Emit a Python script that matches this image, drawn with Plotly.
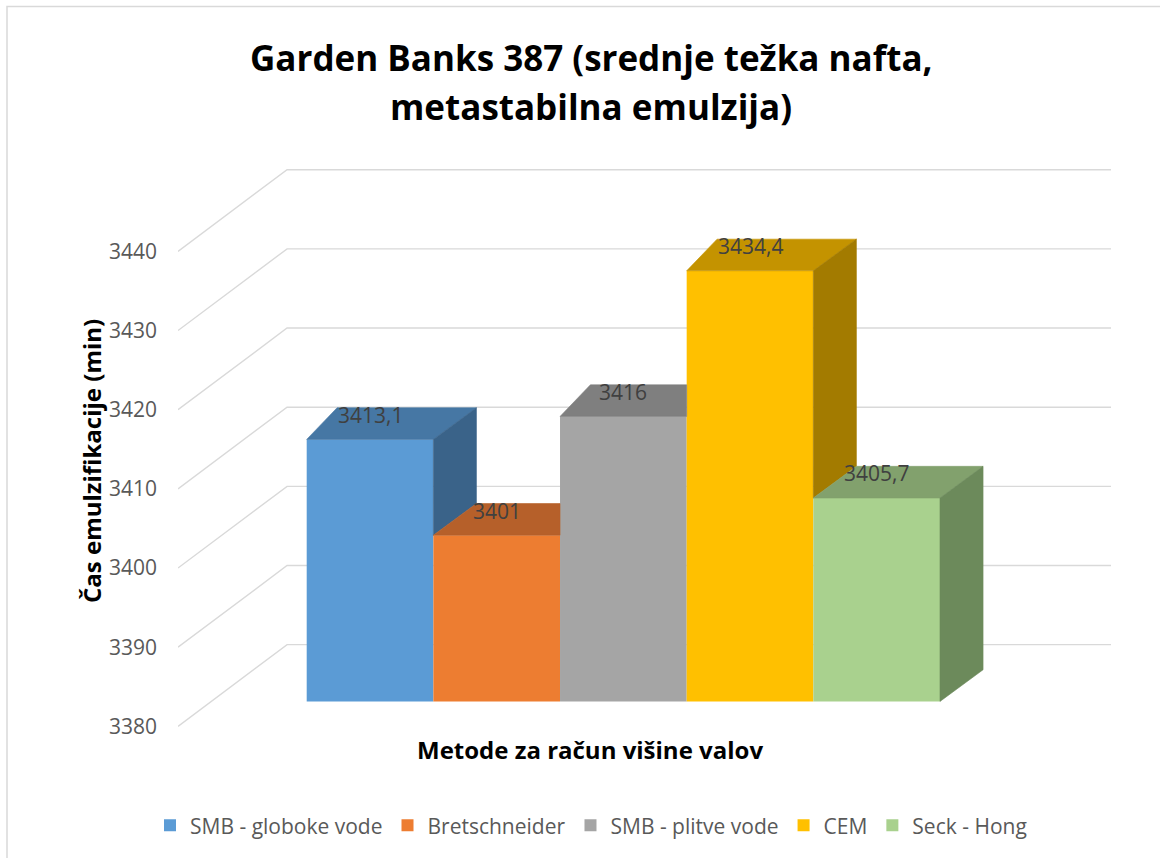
import plotly.graph_objects as go

# ---- data ----
categories = ["SMB - globoke vode", "Bretschneider", "SMB - plitve vode", "CEM", "Seck - Hong"]
values = [3413.1, 3401, 3416, 3434.4, 3405.7]
y_ticks = [3380, 3390, 3400, 3410, 3420, 3430, 3440]

front_colors = ["#5B9BD5", "#ED7D31", "#A5A5A5", "#FFC000", "#A9D18E"]
top_colors = ["#4677A4", "#B6602A", "#7F7F7F", "#C49300", "#82A16D"]
side_colors = ["#3A6389", "#974F1F", "#696969", "#A37B00", "#6C8A5B"]

FLOOR = y_ticks[0]

# ---- oblique projection of the 3-D box ----
# a point at depth fraction f (0 = front of walls, 1 = back wall) is shifted
# by (WALL_DX * f) along x and (WALL_DY * f) along the value axis
WALL_DX = 0.861
WALL_DY = 10.32
BAR_F0 = 0.305          # depth fraction of the column fronts
BAR_DY = 4.0            # value-axis shift across a column's depth
BAR_DX_R = 0.34         # x shift of a column's right depth edge
BAR_DX_L = 0.24         # x shift of a column's left depth edge

# ---- page geometry (pixels) ----
W, H = 1160, 858
ML, MR, MT, MB = 178, 49, 160, 118
PX_X = 126.66           # pixels per category
PX_Y = 7.943            # pixels per value unit
FLOOR_PX = 728.3        # pixel row of the floor value at the wall front
BAR0_LEFT_PX = 306.7    # pixel column of the first column's front-left edge

plot_w = W - ML - MR
plot_h = H - MT - MB
x0 = -0.5 + BAR_F0 * WALL_DX - (BAR0_LEFT_PX - ML) / PX_X
x1 = x0 + plot_w / PX_X
y0 = FLOOR - (H - MB - FLOOR_PX) / PX_Y
y1 = FLOOR + (FLOOR_PX - MT) / PX_Y


def paper_x(px):
    return (px - ML) / plot_w


def paper_y(py):
    return 1 - (py - MT) / plot_h


FONT = "Open Sans"
fig = go.Figure()

# ---- walls: side-wall diagonals and back-wall horizontals ----
gx, gy = [], []
for v in y_ticks:
    gx += [x0, x0 + WALL_DX, x1, None]
    gy += [v, v + WALL_DY, v + WALL_DY, None]
fig.add_trace(go.Scatter(
    x=gx, y=gy, mode="lines", line=dict(color="#D9D9D9", width=1.4),
    hoverinfo="skip", showlegend=False, xaxis="x", yaxis="y"))

# ---- column fronts ----
bar_x = [i + BAR_F0 * WALL_DX for i in range(len(values))]
base = FLOOR + BAR_F0 * WALL_DY
for i, (cat, v) in enumerate(zip(categories, values)):
    fig.add_trace(go.Bar(
        x=[bar_x[i]], y=[v - FLOOR], base=[base], width=[1.0],
        name=cat, marker=dict(color=front_colors[i], line=dict(width=0)),
        xaxis="x2", yaxis="y2", hovertemplate=f"{cat}: %{{customdata}}<extra></extra>",
        customdata=[v]))


def face(xs, ys, color):
    fig.add_trace(go.Scatter(
        x=xs + [xs[0]], y=ys + [ys[0]], fill="toself", fillcolor=color,
        mode="lines", line=dict(color=color, width=0.6),
        hoverinfo="skip", showlegend=False, xaxis="x2", yaxis="y2"))


# ---- column tops and right sides (visible parts only) ----
n = len(values)
for i, v in enumerate(values):
    L = bar_x[i] - 0.5
    R = bar_x[i] + 0.5
    t = v + BAR_F0 * WALL_DY
    dy = BAR_DY
    prev_taller = i > 0 and values[i - 1] > v
    dxl = BAR_DX_R if prev_taller else BAR_DX_L
    T = values[i + 1] + BAR_F0 * WALL_DY if i < n - 1 else None

    # top face
    if T is not None and T > t:
        if T >= t + dy:
            pts = [(L, t), (R, t), (R, t + dy), (L + dxl, t + dy)]
        else:
            s = dy / BAR_DX_R
            pts = [(L, t), (R, t), (R, T), (R + (t + dy - T) / s, t + dy), (L + dxl, t + dy)]
    else:
        pts = [(L, t), (R, t), (R + BAR_DX_R, t + dy), (L + dxl, t + dy)]
    face([p[0] for p in pts], [p[1] for p in pts], top_colors[i])

    # right side face
    lower = None
    if T is None:
        lower = base
    elif T < t:
        lower = T
    if lower is not None:
        pts = [(R, lower), (R, t), (R + BAR_DX_R, t + dy), (R + BAR_DX_R, lower + dy)]
        face([p[0] for p in pts], [p[1] for p in pts], side_colors[i])

# ---- value labels on the column tops ----
for i, v in enumerate(values):
    fig.add_annotation(
        x=bar_x[i], y=v + BAR_F0 * WALL_DY + BAR_DY, xref="x2", yref="y2",
        text=f"{v:g}".replace(".", ","), showarrow=False, yshift=-7,
        xanchor="center", yanchor="middle",
        font=dict(family=FONT, size=21, color="#404040"))

# ---- titles ----
text_common = dict(xref="paper", yref="paper", showarrow=False,
                   xanchor="center", yanchor="middle")
fig.add_annotation(text="<b>Garden Banks 387 (srednje težka nafta,</b>",
                   x=paper_x(591), y=paper_y(57),
                   font=dict(family=FONT, size=35, color="#000000"), **text_common)
fig.add_annotation(text="<b>metastabilna emulzija)</b>",
                   x=paper_x(591), y=paper_y(106),
                   font=dict(family=FONT, size=35, color="#000000"), **text_common)
fig.add_annotation(text="<b>Metode za račun višine valov</b>",
                   x=paper_x(590), y=paper_y(752),
                   font=dict(family=FONT, size=24, color="#000000"), **text_common)
fig.add_annotation(text="<b>Čas emulzifikacije (min)</b>", textangle=-90,
                   x=paper_x(92), y=paper_y(462),
                   font=dict(family=FONT, size=24, color="#000000"), **text_common)

# ---- chart border ----
fig.add_shape(type="rect", xref="paper", yref="paper",
              x0=paper_x(7), x1=paper_x(W + 20), y0=paper_y(H + 20), y1=paper_y(6),
              line=dict(color="#D9D9D9", width=1.5), layer="below")

axis_common = dict(showgrid=False, zeroline=False, showline=False, ticks="")
fig.update_layout(
    width=W, height=H,
    margin=dict(l=ML, r=MR, t=MT, b=MB),
    paper_bgcolor="white", plot_bgcolor="rgba(0,0,0,0)",
    barmode="overlay",
    xaxis=dict(range=[x0, x1], showticklabels=False, fixedrange=True, **axis_common),
    yaxis=dict(range=[y0, y1], tickvals=y_ticks, ticklabelstandoff=20,
               tickfont=dict(family=FONT, size=21, color="#595959"), **axis_common),
    xaxis2=dict(range=[x0, x1], overlaying="x", showticklabels=False, **axis_common),
    yaxis2=dict(range=[y0, y1], overlaying="y", showticklabels=False, **axis_common),
    legend=dict(orientation="h", x=paper_x(591), xanchor="center",
                y=paper_y(828), yanchor="middle", itemwidth=30,
                font=dict(family=FONT, size=21, color="#595959")),
    showlegend=True,
)

fig.write_html("out.html")
